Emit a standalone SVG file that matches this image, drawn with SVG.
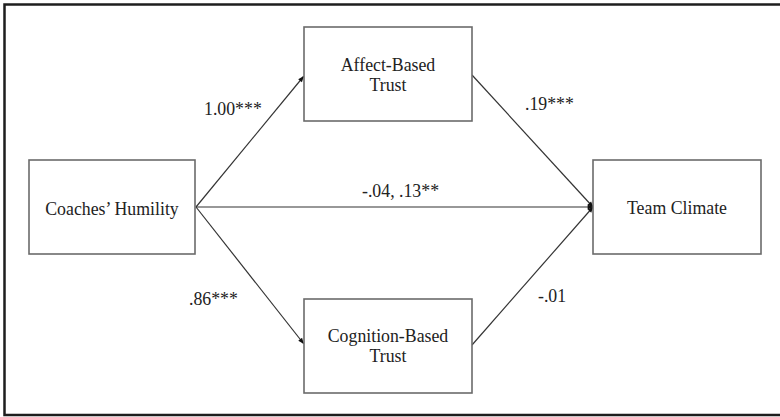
<svg xmlns="http://www.w3.org/2000/svg" width="780" height="417" viewBox="0 0 780 417">
<style>
.box{fill:#fff;stroke:#6b6b6b;stroke-width:1.6}
.t{font-family:"Liberation Serif","Times New Roman",serif;font-size:17.8px;fill:#222;text-anchor:middle}
.l{font-family:"Liberation Serif","Times New Roman",serif;font-size:17.8px;fill:#222}
.c{stroke:#333;stroke-width:1.2;fill:none}
</style>
<defs>
<marker id="ah" viewBox="0 0 10 10" refX="9" refY="5" markerWidth="7" markerHeight="6" orient="auto" markerUnits="userSpaceOnUse">
<path d="M0,1 L10,5 L0,9 Z" fill="#111"/>
</marker>
</defs>
<rect width="780" height="417" fill="#fff"/>
<path d="M781,4.5 H4.5 V415 H781" fill="none" stroke="#1e1e1e" stroke-width="2.5"/>
<g id="connectors">
<line class="c" x1="196" y1="207" x2="303.5" y2="76.5" marker-end="url(#ah)"/>
<line class="c" x1="196" y1="207" x2="303.5" y2="343.5" marker-end="url(#ah)"/>
<line class="c" x1="196" y1="207" x2="593" y2="207" marker-end="url(#ah)"/>
<line class="c" x1="472" y1="75" x2="593" y2="207" marker-end="url(#ah)"/>
<line class="c" x1="472" y1="345" x2="593" y2="207" marker-end="url(#ah)"/>
<text class="l" x="204" y="115">1.00***</text>
<text class="l" x="525" y="110">.19***</text>
<text class="l" x="362" y="197">-.04, .13**</text>
<text class="l" x="189" y="305">.86***</text>
<text class="l" x="538" y="302">-.01</text>
</g>
<g id="coaches">
<rect class="box" x="29" y="160" width="166" height="94"/>
<text class="t" x="112" y="215">Coaches’ Humility</text>
</g>
<g id="affect">
<rect class="box" x="304" y="27" width="168" height="94"/>
<text class="t" x="388" y="71">Affect-Based</text>
<text class="t" x="388" y="91">Trust</text>
</g>
<g id="cognition">
<rect class="box" x="304" y="299" width="168" height="94"/>
<text class="t" x="388" y="342">Cognition-Based</text>
<text class="t" x="388" y="362">Trust</text>
</g>
<g id="climate">
<rect class="box" x="593" y="160" width="168" height="94"/>
<text class="t" x="677" y="214">Team Climate</text>
</g>
</svg>
